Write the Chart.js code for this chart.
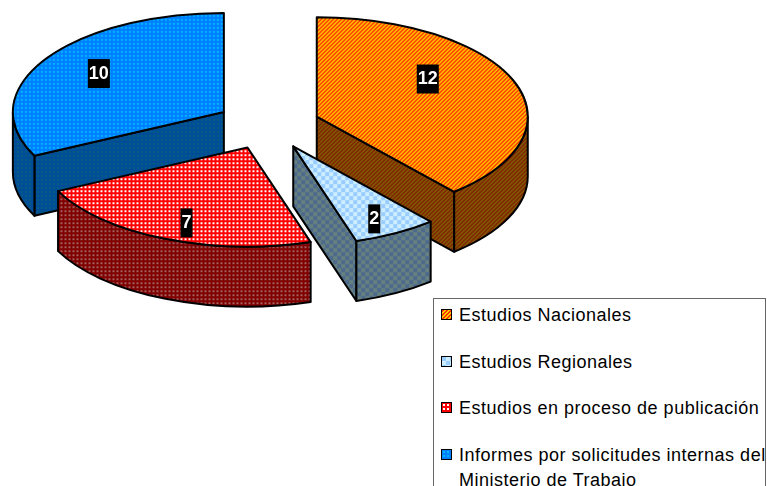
<!DOCTYPE html>
<html>
<head>
<meta charset="utf-8">
<style>
    html, body { margin: 0; padding: 0; background: #fff; width: 767px; height: 486px; overflow: hidden; }
    #wrap { position: relative; width: 767px; height: 486px; overflow: hidden; }
    #pie3d { position: absolute; left: 0; top: 0; }
    #legend {
        position: absolute; left: 433px; top: 298px; width: 333px; height: 200px;
        border: 1px solid #666; background: #fff; box-sizing: border-box; overflow: hidden;
        font: 18px "Liberation Sans", Arial, sans-serif; letter-spacing: 0.5px; color: #000;
    }
    #legend div.row { position: absolute; left: 25px; width: 320px; line-height: 25px; }
    #legend canvas { position: absolute; left: 7px; border: 1.5px solid #000; width: 9px; height: 9px; }
</style>
<script src="https://cdn.jsdelivr.net/npm/chart.js@4/dist/chart.umd.min.js"></script>
</head>
<body>
<div id="wrap">
    <canvas id="pie3d" width="767" height="486"></canvas>
    <div id="legend"></div>
</div>
<script>
'use strict'

var categories = ['Estudios Nacionales', 'Estudios Regionales', 'Estudios en proceso de publicación', 'Informes por solicitudes internas del Ministerio de Trabajo'];
var values = [12, 2, 7, 10];

var pieCenterY = 125;
var squash = 0.47;
var explode = 52;
var depth = 60;
// label position relative to the tip of each exploded slice
var labelShift = [[111, -37], [81, 73], [-61, 76], [-125, -38]];
// back slices first
var drawOrder = [3, 0, 2, 1];

// tiles are drawn at pixel size, rows of strings, each char an index in colors
function makeTile(rows, colors) {
    var c = document.createElement('canvas');
    c.width = rows[0].length;
    c.height = rows.length;
    var g = c.getContext('2d');
    for (let y = 0; y < rows.length; y++) {
        for (let x = 0; x < rows[y].length; x++) {
            g.fillStyle = colors[+rows[y][x]];
            g.fillRect(x, y, 1, 1);
        }
    }
    return c;
}

function makePattern(rows, colors) {
    var p = document.createElement('canvas').getContext('2d').createPattern(makeTile(rows, colors), 'repeat');
    p.setTransform(new DOMMatrix().scale(1, 1 / squash));
    return p;
}

var stripeRows = ['0011', '0110', '1100', '1001'];
var gridRows = ['0000', '0110', '0110', '0000'];
var dotRows = ['0000', '0110', '0110', '0000'];
var checkRows = ['00001111', '00001111', '00001111', '00001111', '11110000', '11110000', '11110000', '11110000'];

var topColors = [['#FF3300', '#FFCC00'], ['#99CCFF', '#CCEEFF'], ['#FF0000', '#FFFFFF'], ['#0080FF', '#00B4FF']];
var sideColors = [['#802000', '#806000'], ['#4D6A8C', '#668080'], ['#800000', '#A06060'], ['#004C99', '#005F80']];
var tileRows = [stripeRows, checkRows, dotRows, gridRows];

var topFills = tileRows.map(function (r, i) { return makePattern(r, topColors[i]); });
var sideFills = tileRows.map(function (r, i) { return makePattern(r, sideColors[i]); });

function squashed(ctx, arc) {
    var mid = (arc.startAngle + arc.endAngle) / 2;
    ctx.translate(0, pieCenterY);
    ctx.scale(1, squash);
    ctx.translate(0, -arc.y);
    ctx.translate(Math.cos(mid) * explode, Math.sin(mid) * explode);
}

function outline(ctx) {
    ctx.lineWidth = 2;
    ctx.lineJoin = 'round';
    ctx.strokeStyle = '#000';
    ctx.stroke();
}

function drawFace(ctx, arc, fill, buildPath) {
    ctx.save();
    squashed(ctx, arc);
    ctx.beginPath();
    buildPath();
    ctx.closePath();
    ctx.fillStyle = fill;
    ctx.fill();
    ctx.restore();
    outline(ctx);
}

function drawSlice(ctx, arc, i) {
    var x = arc.x, y = arc.y, r = arc.outerRadius;
    var a0 = arc.startAngle, a1 = arc.endAngle;
    var d = depth / squash;

    function wall(a) {
        return function () {
            ctx.moveTo(x, y);
            ctx.lineTo(x + Math.cos(a) * r, y + Math.sin(a) * r);
            ctx.lineTo(x + Math.cos(a) * r, y + Math.sin(a) * r + d);
            ctx.lineTo(x, y + d);
        };
    }

    if (Math.cos(a0) < 0) drawFace(ctx, arc, sideFills[i], wall(a0));
    if (Math.cos(a1) > 0) drawFace(ctx, arc, sideFills[i], wall(a1));

    var rimFrom = Math.max(a0, 0), rimTo = Math.min(a1, Math.PI);
    if (rimTo > rimFrom) {
        drawFace(ctx, arc, sideFills[i], function () {
            ctx.arc(x, y, r, rimFrom, rimTo);
            ctx.arc(x, y + d, r, rimTo, rimFrom, true);
        });
    }

    // top face is the library's own arc
    ctx.save();
    squashed(ctx, arc);
    arc.draw(ctx);
    ctx.restore();

    ctx.save();
    squashed(ctx, arc);
    ctx.beginPath();
    ctx.moveTo(x, y);
    ctx.arc(x, y, r, a0, a1);
    ctx.closePath();
    ctx.restore();
    outline(ctx);
}

function drawLabel(ctx, arc, i) {
    var mid = (arc.startAngle + arc.endAngle) / 2;
    var tipX = arc.x + Math.cos(mid) * explode;
    var tipY = pieCenterY + Math.sin(mid) * explode * squash;
    var lx = tipX + labelShift[i][0];
    var ly = tipY + labelShift[i][1];
    var text = String(values[i]);
    ctx.font = 'bold 18px "Liberation Sans", Arial, sans-serif';
    ctx.textAlign = 'center';
    ctx.textBaseline = 'middle';
    var w = ctx.measureText(text).width + 2;
    ctx.fillStyle = '#000';
    ctx.fillRect(lx - w / 2, ly - 15, w, 29);
    ctx.fillStyle = '#fff';
    ctx.fillText(text, lx, ly);
}

var extrudePlugin = {
    id: 'extrude',
    beforeDatasetDraw: function (chart, args) {
        var ctx = chart.ctx;
        var arcs = chart.getDatasetMeta(args.index).data;
        drawOrder.forEach(function (i) { drawSlice(ctx, arcs[i], i); });
        drawOrder.forEach(function (i) { drawLabel(ctx, arcs[i], i); });
        return false;
    }
};

var pieConfig = {
    type: 'pie',
    data: {
        labels: categories,
        datasets: [{
            data: values,
            backgroundColor: topFills,
            borderWidth: 0
        }]
    },
    options: {
        responsive: false,
        animation: false,
        events: [],
        layout: {
            padding: { left: 57, right: 288, top: 32, bottom: 32 }
        },
        plugins: {
            legend: { display: false },
            tooltip: { enabled: false }
        }
    },
    plugins: [extrudePlugin]
};

new Chart(document.getElementById('pie3d'), pieConfig);

// legend next to the chart
var legendEl = document.getElementById('legend');
var rowTops = [4, 51, 97, 144];
categories.forEach(function (name, i) {
    var row = document.createElement('div');
    row.className = 'row';
    row.style.top = rowTops[i] + 'px';
    row.textContent = name;
    legendEl.appendChild(row);

    var swatch = makeTile(tileRows[i], topColors[i]);
    var box = document.createElement('canvas');
    box.width = 9;
    box.height = 9;
    var g = box.getContext('2d');
    g.fillStyle = g.createPattern(swatch, 'repeat');
    g.fillRect(0, 0, 9, 9);
    box.style.top = (rowTops[i] + 6) + 'px';
    legendEl.appendChild(box);
});
</script>
</body>
</html>
